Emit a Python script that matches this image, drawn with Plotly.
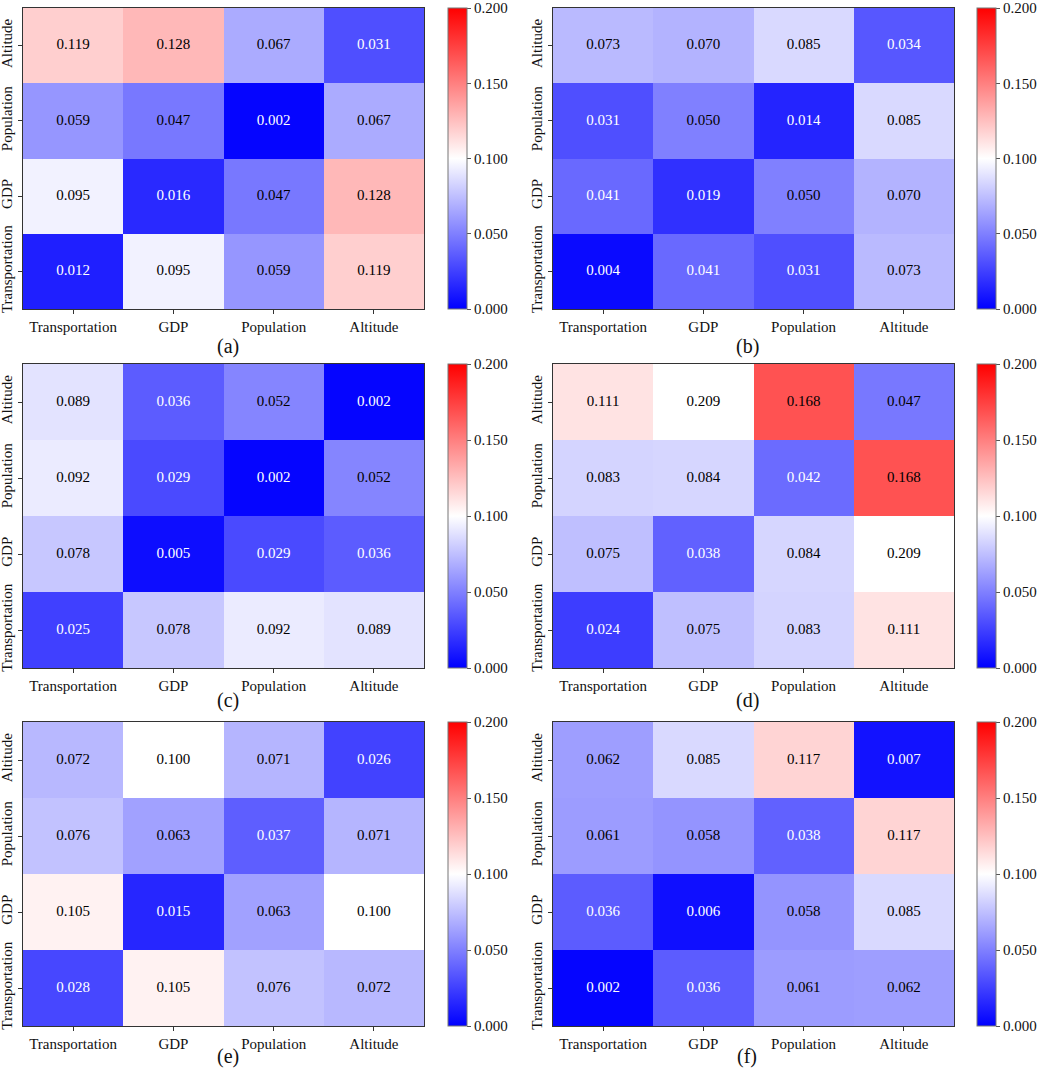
import plotly.graph_objects as go

# ---------------- data ----------------
factors = ["Transportation", "GDP", "Population", "Altitude"]
panel_labels = ["(a)", "(b)", "(c)", "(d)", "(e)", "(f)"]

# rows follow the y order bottom -> top (Transportation, GDP, Population, Altitude)
values_a = [
    [0.012, 0.095, 0.059, 0.119],
    [0.095, 0.016, 0.047, 0.128],
    [0.059, 0.047, 0.002, 0.067],
    [0.119, 0.128, 0.067, 0.031],
]
values_b = [
    [0.004, 0.041, 0.031, 0.073],
    [0.041, 0.019, 0.050, 0.070],
    [0.031, 0.050, 0.014, 0.085],
    [0.073, 0.070, 0.085, 0.034],
]
values_c = [
    [0.025, 0.078, 0.092, 0.089],
    [0.078, 0.005, 0.029, 0.036],
    [0.092, 0.029, 0.002, 0.052],
    [0.089, 0.036, 0.052, 0.002],
]
values_d = [
    [0.024, 0.075, 0.083, 0.111],
    [0.075, 0.038, 0.084, 0.209],
    [0.083, 0.084, 0.042, 0.168],
    [0.111, 0.209, 0.168, 0.047],
]
values_e = [
    [0.028, 0.105, 0.076, 0.072],
    [0.105, 0.015, 0.063, 0.100],
    [0.076, 0.063, 0.037, 0.071],
    [0.072, 0.100, 0.071, 0.026],
]
values_f = [
    [0.002, 0.036, 0.061, 0.062],
    [0.036, 0.006, 0.058, 0.085],
    [0.061, 0.058, 0.038, 0.117],
    [0.062, 0.085, 0.117, 0.007],
]
panels = [values_a, values_b, values_c, values_d, values_e, values_f]

# in the original figure the 0.209 cells of panel (d) are drawn white (colour = midpoint)
colour_overrides = {3: {(1, 3): 0.100, (3, 1): 0.100}}

cbar_ticks = [0.0, 0.05, 0.10, 0.15, 0.20]
zmin, zmax = 0.0, 0.2

# ---------------- layout geometry (pixels) ----------------
W, H = 1040, 1069
col_left = [23, 553]
col_right = [424, 954]
cbar_left = [448, 977]
row_top = [8, 364, 722]
row_h = [301, 304, 304]
label_x = [228, 747]
label_y = [347, 700, 1056]

FONT = "Liberation Serif, Times New Roman, serif"
bwr = [[0.0, "rgb(0,0,255)"], [0.5, "rgb(255,255,255)"], [1.0, "rgb(255,0,0)"]]

fig = go.Figure()
annotations = []

for i, vals in enumerate(panels):
    r, c = divmod(i, 2)
    ax = "" if i == 0 else str(i + 1)
    xa, ya = "x" + ax, "y" + ax

    colour = [row[:] for row in vals]
    for (ri, ci), v in colour_overrides.get(i, {}).items():
        colour[ri][ci] = v

    top = row_top[r]
    y0 = 1 - (top + row_h[r]) / H
    y1 = 1 - top / H

    fig.add_trace(go.Heatmap(
        z=colour, x=factors, y=factors,
        colorscale=bwr, zmin=zmin, zmax=zmax,
        xaxis=xa, yaxis=ya, hoverinfo="skip",
        colorbar=dict(
            x=cbar_left[c] / W, xanchor="left", xpad=0, ypad=0,
            y=(y0 + y1) / 2, yanchor="middle", len=row_h[r] / H, lenmode="fraction",
            thickness=19, outlinewidth=1, outlinecolor="#777777",
            tickvals=cbar_ticks, ticktext=[f"{t:.3f}" for t in cbar_ticks],
            ticks="outside", ticklen=4, ticklabeloverflow="allow",
            tickcolor="#555555", tickwidth=1,
            tickfont=dict(family=FONT, size=15, color="#111111"),
        ),
    ))

    xs, ys, txt, tcol = [], [], [], []
    for ri, yname in enumerate(factors):
        for ci, xname in enumerate(factors):
            v = vals[ri][ci]
            xs.append(xname)
            ys.append(yname)
            txt.append(f"{v:.3f}")
            tcol.append("white" if v < 0.045 else "black")
    fig.add_trace(go.Scatter(
        x=xs, y=ys, text=txt, mode="text", xaxis=xa, yaxis=ya,
        textfont=dict(family=FONT, size=15, color=tcol),
        hoverinfo="skip", showlegend=False,
    ))

    axis_common = dict(
        showline=True, linecolor="#333333", linewidth=1, mirror=True,
        ticks="outside", ticklen=4, tickcolor="#333333", showgrid=False,
        zeroline=False, tickfont=dict(family=FONT, size=15, color="#111111"),
        fixedrange=True,
    )
    fig.layout["xaxis" + ax] = dict(
        domain=[col_left[c] / W, col_right[c] / W], anchor=ya,
        categoryorder="array", categoryarray=factors, **axis_common,
    )
    fig.layout["yaxis" + ax] = dict(
        domain=[y0, y1], anchor=xa, tickangle=-90,
        categoryorder="array", categoryarray=factors, **axis_common,
    )

    annotations.append(dict(
        text=panel_labels[i], x=label_x[c] / W, y=1 - label_y[r] / H,
        xref="paper", yref="paper", xanchor="center", yanchor="middle",
        showarrow=False, font=dict(family=FONT, size=20, color="#111111"),
    ))

fig.update_layout(
    width=W, height=H, margin=dict(l=0, r=0, t=0, b=0, autoexpand=False),
    paper_bgcolor="white", plot_bgcolor="white",
    showlegend=False, annotations=annotations,
)

fig.write_html(
    "out.html",
    config={"displayModeBar": False},
    post_script="document.body.style.margin='0';document.body.style.overflow='hidden';",
)
